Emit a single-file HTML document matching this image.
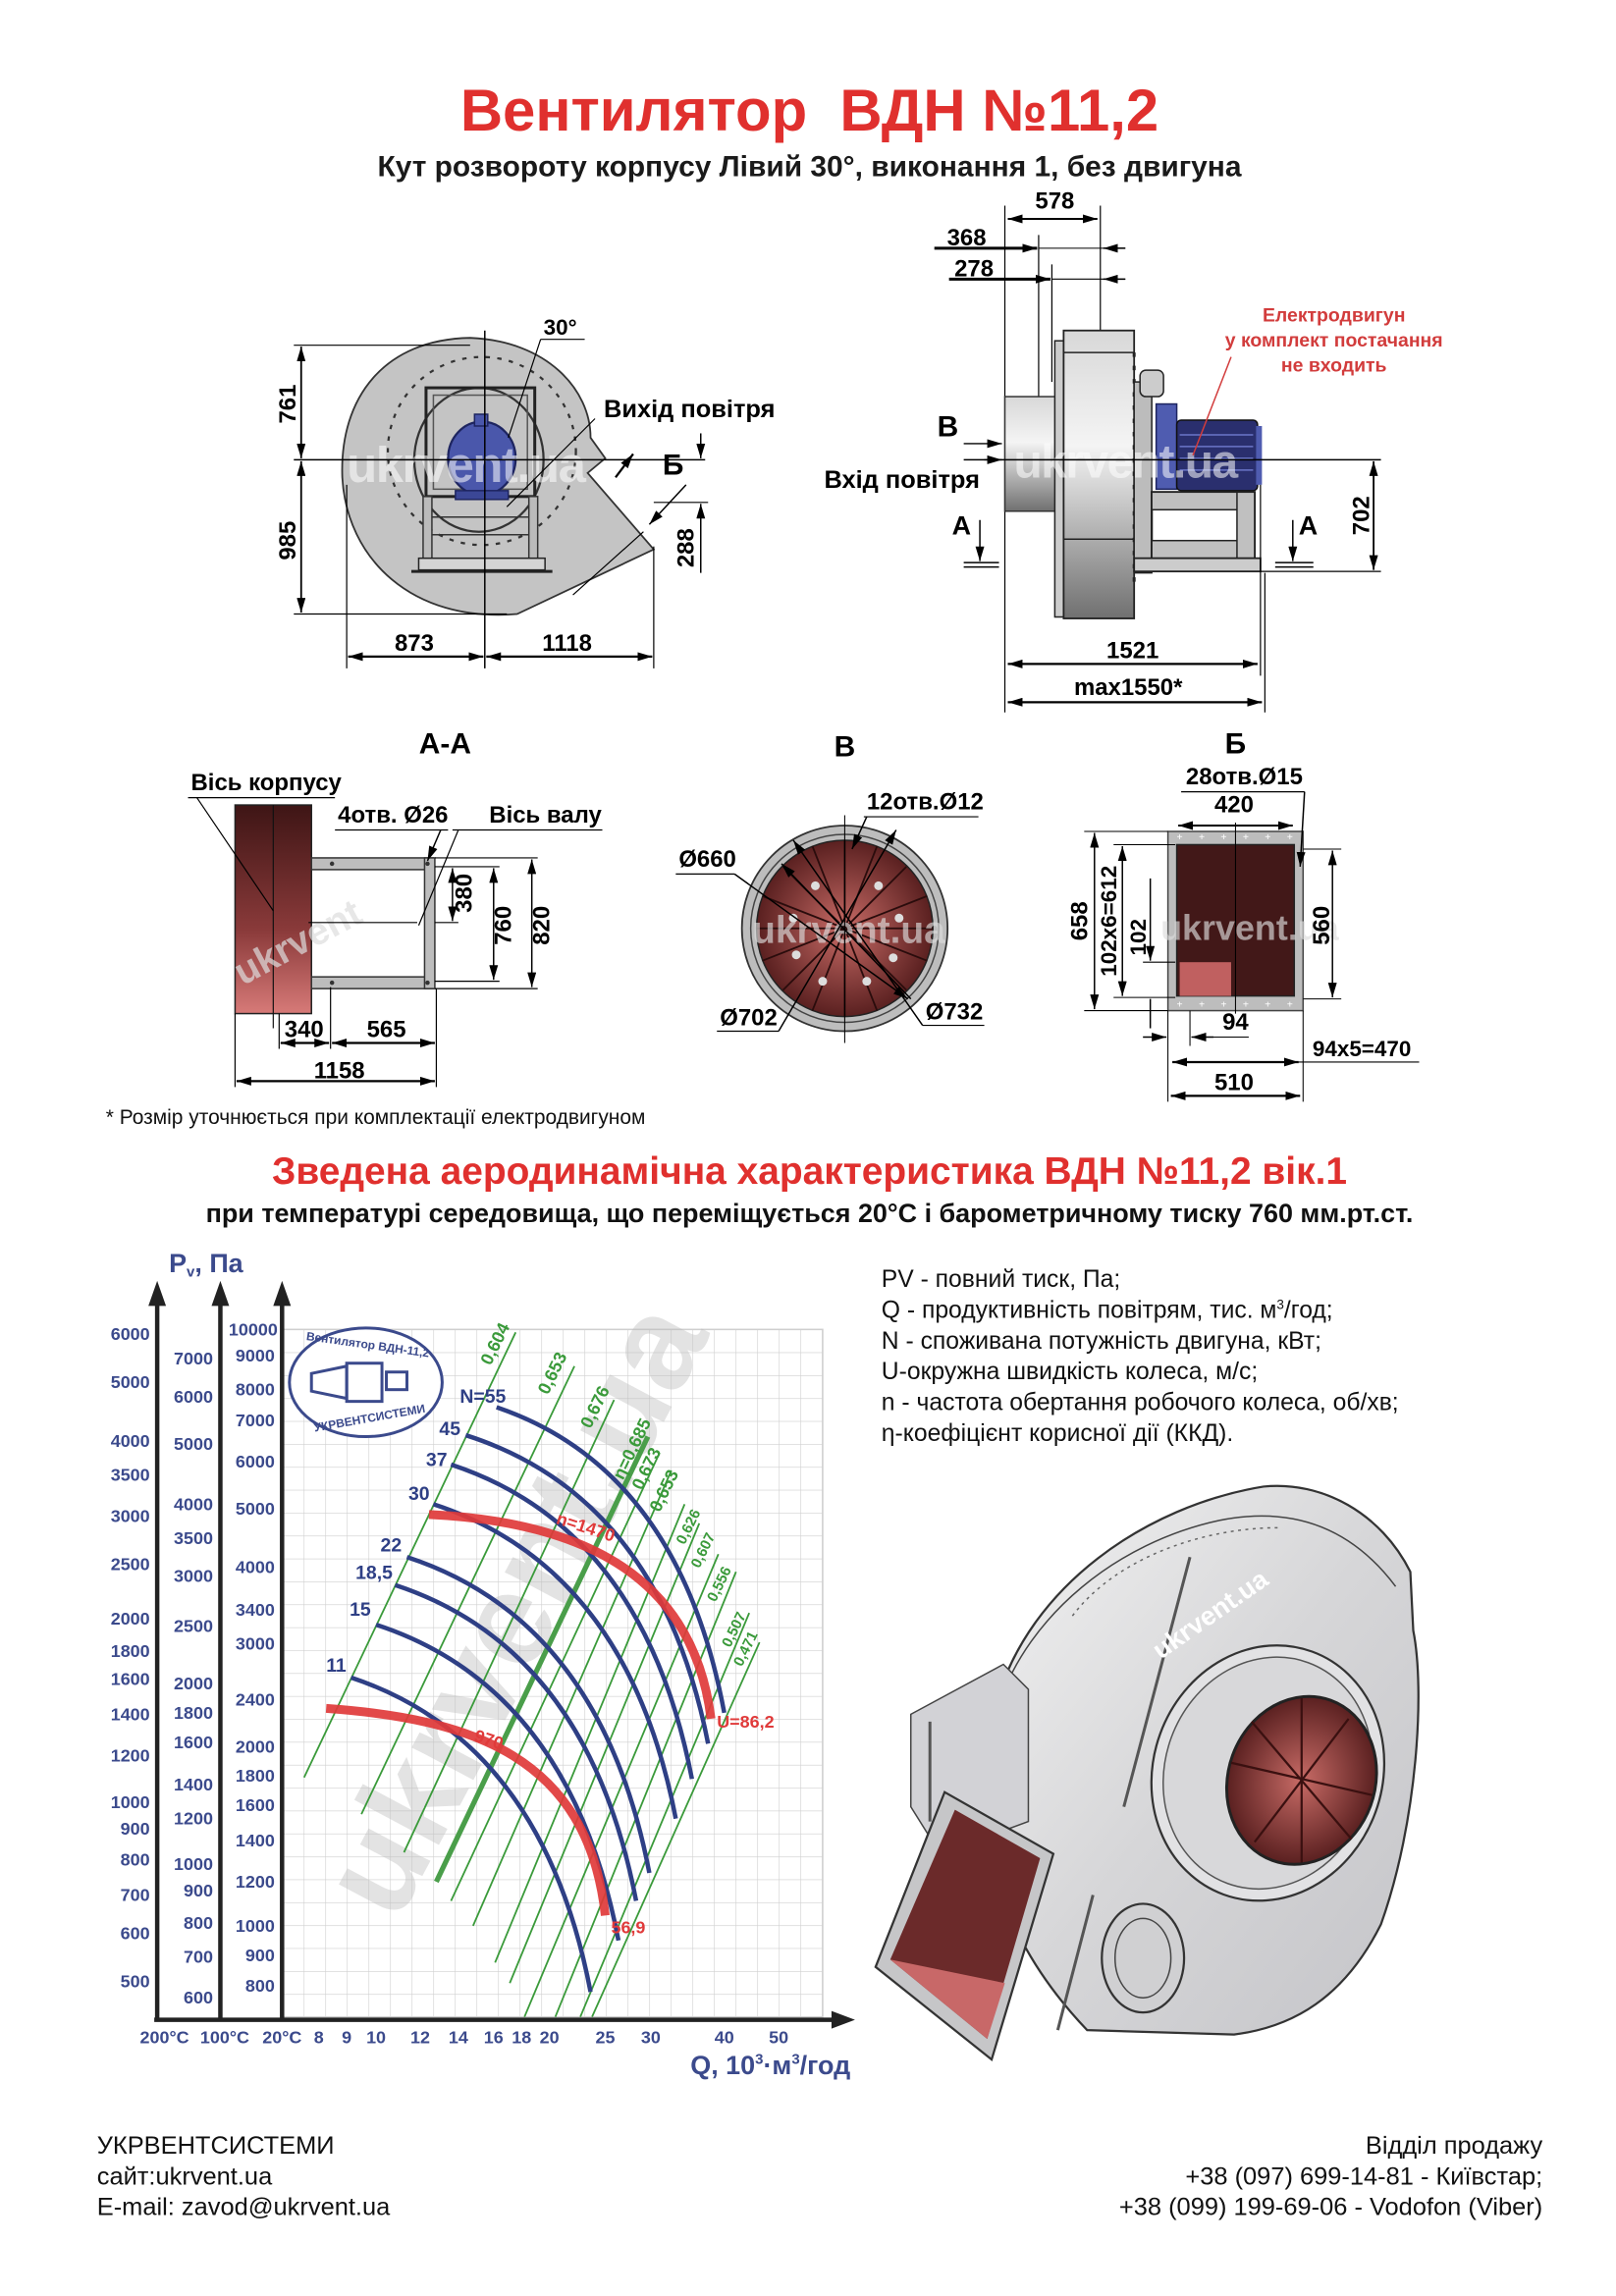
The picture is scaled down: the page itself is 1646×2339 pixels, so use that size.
<!DOCTYPE html>
<html><head><meta charset="utf-8"><style>
html,body{margin:0;padding:0;background:#fff}
svg{display:block}
text{font-family:"Liberation Sans",sans-serif}
</style></head><body>
<svg width="1646" height="2339" viewBox="0 0 1100 1563" preserveAspectRatio="none" xmlns="http://www.w3.org/2000/svg">
<defs>
<marker id="ar" viewBox="0 0 10 6" refX="10" refY="3" markerWidth="10" markerHeight="6" orient="auto-start-reverse" markerUnits="userSpaceOnUse"><path d="M0,0 L10,3 L0,6 z" fill="#000"/></marker>
<linearGradient id="drum" x1="0" y1="0" x2="0" y2="1"><stop offset="0" stop-color="#d8d8d8"/><stop offset="0.4" stop-color="#f4f4f4"/><stop offset="1" stop-color="#707070"/></linearGradient>
<linearGradient id="red" x1="0" y1="0" x2="0" y2="1"><stop offset="0" stop-color="#3e1515"/><stop offset="0.6" stop-color="#8a3a3a"/><stop offset="1" stop-color="#d77a78"/></linearGradient>
<radialGradient id="rr"><stop offset="0" stop-color="#c86b66"/><stop offset="1" stop-color="#5a2020"/></radialGradient>
<linearGradient id="hous" x1="0" y1="0" x2="1" y2="1"><stop offset="0" stop-color="#f2f2f2"/><stop offset="0.5" stop-color="#d6d6d8"/><stop offset="1" stop-color="#c4c4c8"/></linearGradient>
<pattern id="grid" x="192" y="905" width="14.7" height="15.6" patternUnits="userSpaceOnUse"><path d="M0,0 H14.7 M0,0 V15.6" stroke="#cfcfcf" stroke-width="0.8" fill="none"/></pattern>
</defs>

<!-- Header -->
<text x="551" y="89" font-size="40" font-weight="bold" fill="#e0302e" text-anchor="middle">Вентилятор&#160; ВДН №11,2</text>
<text x="551" y="120" font-size="20" font-weight="bold" fill="#1a1a1a" text-anchor="middle">Кут розвороту корпусу Лівий 30°, виконання 1, без двигуна</text>

<!-- FRONT VIEW -->
<path d="M320,230 C372,232 402,265 402,298 L412,312 L400,322 L445,374 L352,418 C280,424 236,380 233,325 C231,270 262,231 320,230 z" fill="#c4c4c4" stroke="#333" stroke-width="1.2"/>
<circle cx="328" cy="307" r="64" fill="none" stroke="#333" stroke-width="1.5" stroke-dasharray="3,5"/>
<ellipse cx="326" cy="313" rx="44" ry="49" fill="none" stroke="#333" stroke-width="1.5"/>
<rect x="290" y="264" width="74" height="74" fill="none" stroke="#222" stroke-width="2"/>
<rect x="295" y="269" width="64" height="64" fill="none" stroke="#555" stroke-width="1"/>
<rect x="288" y="338" width="6" height="44" fill="#bbb" stroke="#333"/>
<rect x="360" y="338" width="6" height="44" fill="#bbb" stroke="#333"/>
<line x1="294" y1="352" x2="360" y2="352" stroke="#333"/>
<line x1="294" y1="364" x2="360" y2="364" stroke="#333"/>
<rect x="285" y="380" width="86" height="8" fill="#d4d4d4" stroke="#222"/>
<line x1="280" y1="389" x2="376" y2="389" stroke="#222" stroke-width="2"/>
<ellipse cx="328" cy="312" rx="23" ry="25" fill="#4a57ab" stroke="#1e2560" stroke-width="1.5"/>
<rect x="323" y="282" width="9" height="8" fill="#4a57ab" stroke="#1e2560"/>
<rect x="310" y="334" width="36" height="6" fill="#3b4796" stroke="#1e2560"/>
<text x="236" y="328" font-size="34" font-weight="bold" fill="#fff" opacity="0.55" letter-spacing="-1">ukrvent.ua</text>
<line x1="200" y1="313" x2="480" y2="313" stroke="#000" stroke-width="1"/>
<line x1="330" y1="225" x2="330" y2="455" stroke="#000" stroke-width="1"/>
<line x1="200" y1="235" x2="320" y2="235" stroke="#000" stroke-width="0.8"/>
<line x1="200" y1="418" x2="345" y2="418" stroke="#000" stroke-width="0.8"/>
<line x1="205" y1="236" x2="205" y2="312" stroke="#000" stroke-width="1.2" marker-start="url(#ar)" marker-end="url(#ar)"/>
<line x1="205" y1="314" x2="205" y2="417" stroke="#000" stroke-width="1.2" marker-start="url(#ar)" marker-end="url(#ar)"/>
<text transform="translate(201,275) rotate(-90)" font-size="16" font-weight="bold" text-anchor="middle">761</text>
<text transform="translate(201,368) rotate(-90)" font-size="16" font-weight="bold" text-anchor="middle">985</text>
<line x1="236" y1="330" x2="236" y2="455" stroke="#000" stroke-width="0.8"/>
<line x1="445" y1="372" x2="445" y2="455" stroke="#000" stroke-width="0.8"/>
<line x1="237" y1="447" x2="329" y2="447" stroke="#000" stroke-width="1.5" marker-start="url(#ar)" marker-end="url(#ar)"/>
<line x1="331" y1="447" x2="444" y2="447" stroke="#000" stroke-width="1.5" marker-start="url(#ar)" marker-end="url(#ar)"/>
<text x="282" y="443" font-size="16" font-weight="bold" text-anchor="middle">873</text>
<text x="386" y="443" font-size="16" font-weight="bold" text-anchor="middle">1118</text>
<line x1="445" y1="342" x2="482" y2="342" stroke="#000" stroke-width="0.8"/>
<line x1="477" y1="295" x2="477" y2="312" stroke="#000" stroke-width="1" marker-end="url(#ar)"/>
<line x1="477" y1="343" x2="477" y2="390" stroke="#000" stroke-width="1" marker-start="url(#ar)"/>
<text transform="translate(472,373) rotate(-90)" font-size="16" font-weight="bold" text-anchor="middle">288</text>
<line x1="346" y1="298" x2="368" y2="231" stroke="#000" stroke-width="0.8"/>
<line x1="368" y1="231" x2="398" y2="231" stroke="#000" stroke-width="0.8"/>
<text x="370" y="228" font-size="15" font-weight="bold">30°</text>
<line x1="345" y1="345" x2="405" y2="285" stroke="#000" stroke-width="0.8"/>
<text x="411" y="284" font-size="17" font-weight="bold">Вихід повітря</text>
<line x1="419" y1="325" x2="431" y2="309" stroke="#000" stroke-width="1.5" marker-end="url(#ar)"/>
<text x="451" y="323" font-size="20" font-weight="bold">Б</text>
<line x1="467" y1="330" x2="442" y2="357" stroke="#000" stroke-width="1" marker-end="url(#ar)"/>
<line x1="438" y1="362" x2="390" y2="405" stroke="#000" stroke-width="0.8"/>

<!-- SIDE VIEW -->
<line x1="684" y1="140" x2="684" y2="485" stroke="#000" stroke-width="0.8"/>
<line x1="749" y1="140" x2="749" y2="420" stroke="#000" stroke-width="0.8"/>
<line x1="707" y1="160" x2="707" y2="300" stroke="#000" stroke-width="0.8"/>
<line x1="716" y1="180" x2="716" y2="260" stroke="#000" stroke-width="0.8"/>
<line x1="686" y1="149" x2="747" y2="149" stroke="#000" stroke-width="1.3" marker-start="url(#ar)" marker-end="url(#ar)"/>
<text x="718" y="142" font-size="16" font-weight="bold" text-anchor="middle">578</text>
<line x1="636" y1="169" x2="706" y2="169" stroke="#000" stroke-width="2" marker-end="url(#ar)"/>
<line x1="707" y1="169" x2="766" y2="169" stroke="#000" stroke-width="0.7"/>
<line x1="766" y1="169" x2="751" y2="169" stroke="#000" stroke-width="1" marker-end="url(#ar)"/>
<text x="658" y="167" font-size="16" font-weight="bold" text-anchor="middle">368</text>
<line x1="646" y1="190" x2="715" y2="190" stroke="#000" stroke-width="2" marker-end="url(#ar)"/>
<line x1="716" y1="190" x2="766" y2="190" stroke="#000" stroke-width="0.7"/>
<line x1="766" y1="190" x2="751" y2="190" stroke="#000" stroke-width="1" marker-end="url(#ar)"/>
<text x="663" y="188" font-size="16" font-weight="bold" text-anchor="middle">278</text>
<rect x="684" y="270" width="37" height="78" fill="url(#drum)" stroke="#333"/>
<rect x="718" y="232" width="6" height="188" fill="#ccc" stroke="#222"/>
<rect x="724" y="225" width="48" height="196" fill="url(#drum)" stroke="#222" stroke-width="1.2"/>
<line x1="724" y1="240" x2="772" y2="240" stroke="#222"/>
<line x1="724" y1="367" x2="772" y2="367" stroke="#222"/>
<line x1="772" y1="240" x2="772" y2="400" stroke="#222" stroke-width="2" stroke-dasharray="3,6"/>
<rect x="772" y="260" width="12" height="130" fill="#bcbcbc" stroke="#222"/>
<rect x="776" y="252" width="16" height="18" rx="4" fill="#ccc" stroke="#222"/>
<rect x="787" y="275" width="14" height="58" fill="#4f5cb0" stroke="#1e2560"/>
<rect x="801" y="286" width="55" height="48" rx="3" fill="#2a2f6e" stroke="#111"/>
<line x1="803" y1="296" x2="853" y2="296" stroke="#6a76c8"/><line x1="803" y1="304" x2="853" y2="304" stroke="#6a76c8"/><line x1="803" y1="312" x2="853" y2="312" stroke="#6a76c8"/><line x1="803" y1="320" x2="853" y2="320" stroke="#6a76c8"/>
<rect x="855" y="290" width="4" height="40" fill="#4f5cb0"/>
<rect x="784" y="335" width="70" height="45" fill="none" stroke="#222" stroke-width="1.5"/>
<rect x="784" y="335" width="70" height="12" fill="#c0c0c0" stroke="#222"/>
<rect x="784" y="368" width="70" height="12" fill="#c0c0c0" stroke="#222"/>
<rect x="842" y="335" width="12" height="45" fill="#c0c0c0" stroke="#222"/>
<rect x="772" y="380" width="86" height="9" fill="#ccc" stroke="#222" stroke-width="1.2"/>
<text x="690" y="325" font-size="32" font-weight="bold" fill="#fff" opacity="0.55" letter-spacing="-1">ukrvent.ua</text>
<line x1="670" y1="313" x2="940" y2="313" stroke="#000" stroke-width="1"/>
<line x1="858" y1="389" x2="940" y2="389" stroke="#000" stroke-width="0.8"/>
<line x1="858" y1="330" x2="858" y2="460" stroke="#000" stroke-width="0.8"/>
<line x1="861" y1="390" x2="861" y2="485" stroke="#000" stroke-width="0.8"/>
<line x1="935" y1="314" x2="935" y2="388" stroke="#000" stroke-width="1.2" marker-start="url(#ar)" marker-end="url(#ar)"/>
<text transform="translate(932,351) rotate(-90)" font-size="16" font-weight="bold" text-anchor="middle">702</text>
<line x1="686" y1="452" x2="856" y2="452" stroke="#000" stroke-width="1.5" marker-start="url(#ar)" marker-end="url(#ar)"/>
<text x="771" y="448" font-size="16" font-weight="bold" text-anchor="middle">1521</text>
<line x1="686" y1="478" x2="859" y2="478" stroke="#000" stroke-width="1.5" marker-start="url(#ar)" marker-end="url(#ar)"/>
<text x="768" y="473" font-size="16" font-weight="bold" text-anchor="middle">max1550*</text>
<text x="638" y="297" font-size="20" font-weight="bold">В</text>
<line x1="656" y1="302" x2="682" y2="302" stroke="#000" stroke-width="1" marker-end="url(#ar)"/>
<line x1="656" y1="313" x2="682" y2="313" stroke="#000" stroke-width="1" marker-end="url(#ar)"/>
<text x="561" y="332" font-size="17" font-weight="bold">Вхід повітря</text>
<text x="648" y="364" font-size="18" font-weight="bold">А</text>
<line x1="667" y1="354" x2="667" y2="382" stroke="#000" stroke-width="1" marker-end="url(#ar)"/>
<line x1="656" y1="383" x2="680" y2="383" stroke="#000"/><line x1="656" y1="386" x2="680" y2="386" stroke="#000"/>
<text x="884" y="364" font-size="18" font-weight="bold">А</text>
<line x1="880" y1="354" x2="880" y2="382" stroke="#000" stroke-width="1" marker-end="url(#ar)"/>
<line x1="868" y1="383" x2="894" y2="383" stroke="#000"/><line x1="868" y1="386" x2="894" y2="386" stroke="#000"/>
<text x="908" y="219" font-size="13" font-weight="bold" fill="#d23c3c" text-anchor="middle">Електродвигун</text>
<text x="908" y="236" font-size="13" font-weight="bold" fill="#d23c3c" text-anchor="middle">у комплект постачання</text>
<text x="908" y="253" font-size="13" font-weight="bold" fill="#d23c3c" text-anchor="middle">не входить</text>
<line x1="838" y1="243" x2="812" y2="310" stroke="#d23c3c" stroke-width="1"/>

<!-- SECTIONS -->
<text x="303" y="513" font-size="20" font-weight="bold" text-anchor="middle">А-А</text>
<text x="575" y="515" font-size="20" font-weight="bold" text-anchor="middle">В</text>
<text x="841" y="513" font-size="20" font-weight="bold" text-anchor="middle">Б</text>
<rect x="160" y="548" width="52" height="142" fill="url(#red)" stroke="#222"/>
<line x1="186" y1="548" x2="186" y2="700" stroke="#111" stroke-width="0.8"/>
<rect x="212" y="584" width="83" height="8" fill="#bdbdbd" stroke="#333"/>
<rect x="212" y="665" width="83" height="8" fill="#bdbdbd" stroke="#333"/>
<rect x="289" y="584" width="7" height="89" fill="#bdbdbd" stroke="#333"/>
<circle cx="226" cy="588" r="1.5" fill="#333"/><circle cx="291" cy="588" r="1.5" fill="#333"/><circle cx="226" cy="669" r="1.5" fill="#333"/><circle cx="291" cy="669" r="1.5" fill="#333"/>
<text x="150" y="650" font-size="26" font-weight="bold" fill="#ddd" opacity="0.7" transform="rotate(-28 200 630)">ukrvent</text>
<line x1="210" y1="628" x2="284" y2="628" stroke="#000" stroke-width="0.8"/>
<line x1="296" y1="584" x2="366" y2="584" stroke="#000" stroke-width="0.8"/>
<line x1="296" y1="673" x2="366" y2="673" stroke="#000" stroke-width="0.8"/>
<line x1="296" y1="590" x2="340" y2="590" stroke="#000" stroke-width="0.8"/>
<line x1="296" y1="668" x2="340" y2="668" stroke="#000" stroke-width="0.8"/>
<line x1="296" y1="628" x2="312" y2="628" stroke="#000" stroke-width="0.8"/>
<line x1="308" y1="591" x2="308" y2="627" stroke="#000" stroke-width="1" marker-start="url(#ar)" marker-end="url(#ar)"/>
<line x1="336" y1="591" x2="336" y2="667" stroke="#000" stroke-width="1" marker-start="url(#ar)" marker-end="url(#ar)"/>
<line x1="362" y1="585" x2="362" y2="672" stroke="#000" stroke-width="1" marker-start="url(#ar)" marker-end="url(#ar)"/>
<text transform="translate(321,608) rotate(-90)" font-size="16" font-weight="bold" text-anchor="middle">380</text>
<text transform="translate(348,630) rotate(-90)" font-size="16" font-weight="bold" text-anchor="middle">760</text>
<text transform="translate(374,630) rotate(-90)" font-size="16" font-weight="bold" text-anchor="middle">820</text>
<line x1="160" y1="690" x2="160" y2="740" stroke="#000" stroke-width="0.8"/>
<line x1="190" y1="690" x2="190" y2="714" stroke="#000" stroke-width="0.8"/>
<line x1="225" y1="672" x2="225" y2="714" stroke="#000" stroke-width="0.8"/>
<line x1="297" y1="673" x2="297" y2="740" stroke="#000" stroke-width="0.8"/>
<line x1="191" y1="710" x2="224" y2="710" stroke="#000" stroke-width="1.5" marker-start="url(#ar)" marker-end="url(#ar)"/>
<line x1="226" y1="710" x2="296" y2="710" stroke="#000" stroke-width="1.5" marker-start="url(#ar)" marker-end="url(#ar)"/>
<line x1="161" y1="736" x2="296" y2="736" stroke="#000" stroke-width="1.5" marker-start="url(#ar)" marker-end="url(#ar)"/>
<text x="207" y="706" font-size="16" font-weight="bold" text-anchor="middle">340</text>
<text x="263" y="706" font-size="16" font-weight="bold" text-anchor="middle">565</text>
<text x="231" y="734" font-size="16" font-weight="bold" text-anchor="middle">1158</text>
<text x="130" y="538" font-size="16" font-weight="bold">Вісь корпусу</text>
<line x1="128" y1="543" x2="228" y2="543" stroke="#000" stroke-width="0.8"/>
<line x1="134" y1="543" x2="186" y2="620" stroke="#000" stroke-width="0.8"/>
<text x="230" y="560" font-size="16" font-weight="bold">4отв. Ø26</text>
<line x1="228" y1="565" x2="305" y2="565" stroke="#000" stroke-width="0.8"/>
<line x1="300" y1="565" x2="291" y2="586" stroke="#000" stroke-width="1" marker-end="url(#ar)"/>
<text x="333" y="560" font-size="16" font-weight="bold">Вісь валу</text>
<line x1="308" y1="565" x2="410" y2="565" stroke="#000" stroke-width="0.8"/>
<line x1="312" y1="565" x2="285" y2="630" stroke="#000" stroke-width="0.8"/>
<circle cx="575" cy="632" r="70" fill="#bdbdbd" stroke="#333" stroke-width="1.2"/>
<circle cx="575" cy="632" r="64" fill="none" stroke="#444"/>
<circle cx="575" cy="632" r="60" fill="url(#rr)" stroke="#222"/>
<g stroke="#2a0c0c" stroke-width="1.2">
<line x1="575" y1="572" x2="575" y2="692"/><line x1="515" y1="632" x2="635" y2="632"/>
<line x1="533" y1="590" x2="617" y2="674"/><line x1="617" y1="590" x2="533" y2="674"/>
<line x1="553" y1="576" x2="597" y2="688"/><line x1="597" y1="576" x2="553" y2="688"/>
<line x1="519" y1="610" x2="631" y2="654"/><line x1="631" y1="610" x2="519" y2="654"/>
</g>
<g fill="#ddd"><circle cx="555" cy="603" r="3"/><circle cx="598" cy="603" r="3"/><circle cx="540" cy="625" r="3"/><circle cx="612" cy="625" r="3"/><circle cx="542" cy="650" r="3"/><circle cx="608" cy="652" r="3"/><circle cx="560" cy="668" r="3"/><circle cx="590" cy="668" r="3"/></g>
<text x="512" y="642" font-size="26" font-weight="bold" fill="#ddd" opacity="0.65">ukrvent.ua</text>
<line x1="575" y1="555" x2="575" y2="710" stroke="#000" stroke-width="0.7"/>
<text x="590" y="551" font-size="16" font-weight="bold">12отв.Ø12</text>
<line x1="588" y1="556" x2="666" y2="556" stroke="#000" stroke-width="0.8"/>
<line x1="590" y1="556" x2="580" y2="578" stroke="#000" stroke-width="1" marker-end="url(#ar)"/>
<text x="462" y="590" font-size="16" font-weight="bold">Ø660</text>
<line x1="460" y1="595" x2="500" y2="595" stroke="#000" stroke-width="0.8"/>
<line x1="500" y1="595" x2="618" y2="680" stroke="#000" stroke-width="1" marker-end="url(#ar)"/>
<line x1="620" y1="680" x2="532" y2="588" stroke="#000" stroke-width="1" marker-end="url(#ar)"/>
<text x="490" y="698" font-size="16" font-weight="bold">Ø702</text>
<line x1="488" y1="702" x2="530" y2="702" stroke="#000" stroke-width="0.8"/>
<line x1="530" y1="702" x2="610" y2="565" stroke="#000" stroke-width="1" marker-end="url(#ar)"/>
<text x="630" y="694" font-size="16" font-weight="bold">Ø732</text>
<line x1="628" y1="698" x2="670" y2="698" stroke="#000" stroke-width="0.8"/>
<line x1="628" y1="698" x2="540" y2="572" stroke="#000" stroke-width="1" marker-end="url(#ar)"/>
<rect x="795" y="566" width="92" height="122" fill="#bdbdbd" stroke="#444"/>
<rect x="801" y="575" width="80" height="103" fill="#421818" stroke="#222"/>
<rect x="803" y="655" width="35" height="23" fill="#c06060"/>
<line x1="841" y1="560" x2="841" y2="690" stroke="#000" stroke-width="0.7"/>
<g fill="#fff" font-size="7" text-anchor="middle"><text x="803" y="572">+</text><text x="818" y="572">+</text><text x="833" y="572">+</text><text x="848" y="572">+</text><text x="863" y="572">+</text><text x="878" y="572">+</text><text x="803" y="686">+</text><text x="818" y="686">+</text><text x="833" y="686">+</text><text x="848" y="686">+</text><text x="863" y="686">+</text><text x="878" y="686">+</text></g>
<text x="790" y="640" font-size="24" font-weight="bold" fill="#ddd" opacity="0.65">ukrvent.ua</text>
<text x="847" y="534" font-size="16" font-weight="bold" text-anchor="middle">28отв.Ø15</text>
<line x1="804" y1="539" x2="888" y2="539" stroke="#000" stroke-width="0.8"/>
<line x1="888" y1="539" x2="885" y2="590" stroke="#000" stroke-width="1" marker-end="url(#ar)"/>
<text x="840" y="553" font-size="16" font-weight="bold" text-anchor="middle">420</text>
<line x1="802" y1="562" x2="880" y2="562" stroke="#000" stroke-width="1.3" marker-start="url(#ar)" marker-end="url(#ar)"/>
<line x1="738" y1="566" x2="795" y2="566" stroke="#000" stroke-width="0.7"/>
<line x1="738" y1="688" x2="795" y2="688" stroke="#000" stroke-width="0.7"/>
<line x1="745" y1="567" x2="745" y2="687" stroke="#000" stroke-width="1" marker-start="url(#ar)" marker-end="url(#ar)"/>
<text transform="translate(740,627) rotate(-90)" font-size="16" font-weight="bold" text-anchor="middle">658</text>
<line x1="758" y1="575" x2="800" y2="575" stroke="#000" stroke-width="0.7"/>
<line x1="758" y1="679" x2="800" y2="679" stroke="#000" stroke-width="0.7"/>
<line x1="764" y1="576" x2="764" y2="678" stroke="#000" stroke-width="1" marker-start="url(#ar)" marker-end="url(#ar)"/>
<text transform="translate(760,627) rotate(-90)" font-size="15" font-weight="bold" text-anchor="middle">102x6=612</text>
<line x1="778" y1="655" x2="800" y2="655" stroke="#000" stroke-width="0.7"/>
<line x1="783" y1="598" x2="783" y2="654" stroke="#000" stroke-width="1" marker-end="url(#ar)"/>
<line x1="783" y1="680" x2="783" y2="700" stroke="#000" stroke-width="1"/>
<text transform="translate(780,638) rotate(-90)" font-size="15" font-weight="bold" text-anchor="middle">102</text>
<line x1="887" y1="578" x2="913" y2="578" stroke="#000" stroke-width="0.7"/>
<line x1="887" y1="680" x2="913" y2="680" stroke="#000" stroke-width="0.7"/>
<line x1="907" y1="579" x2="907" y2="679" stroke="#000" stroke-width="1" marker-start="url(#ar)" marker-end="url(#ar)"/>
<text transform="translate(905,630) rotate(-90)" font-size="16" font-weight="bold" text-anchor="middle">560</text>
<line x1="795" y1="688" x2="795" y2="750" stroke="#000" stroke-width="0.7"/>
<line x1="887" y1="688" x2="887" y2="750" stroke="#000" stroke-width="0.7"/>
<line x1="810" y1="688" x2="810" y2="712" stroke="#000" stroke-width="0.7"/>
<line x1="778" y1="706" x2="794" y2="706" stroke="#000" stroke-width="1" marker-end="url(#ar)"/>
<line x1="826" y1="706" x2="811" y2="706" stroke="#000" stroke-width="1" marker-end="url(#ar)"/>
<line x1="811" y1="706" x2="850" y2="706" stroke="#000" stroke-width="0.7"/>
<text x="841" y="701" font-size="16" font-weight="bold" text-anchor="middle">94</text>
<line x1="798" y1="723" x2="884" y2="723" stroke="#000" stroke-width="1.5" marker-start="url(#ar)" marker-end="url(#ar)"/>
<line x1="884" y1="723" x2="966" y2="723" stroke="#000" stroke-width="0.7"/>
<text x="927" y="719" font-size="15" font-weight="bold" text-anchor="middle">94x5=470</text>
<line x1="797" y1="746" x2="885" y2="746" stroke="#000" stroke-width="1.5" marker-start="url(#ar)" marker-end="url(#ar)"/>
<text x="840" y="742" font-size="16" font-weight="bold" text-anchor="middle">510</text>

<text x="72" y="765" font-size="14" fill="#111">* Розмір уточнюється при комплектації електродвигуном</text>

<text x="551" y="806" font-size="26" font-weight="bold" fill="#e0302e" text-anchor="middle">Зведена аеродинамічна характеристика ВДН №11,2 вік.1</text>
<text x="551" y="832" font-size="18" font-weight="bold" fill="#111" text-anchor="middle">при температурі середовища, що переміщується 20°С і барометричному тиску 760 мм.рт.ст.</text>

<!-- CHART -->
<rect x="192" y="905" width="368" height="468" fill="url(#grid)"/>
<rect x="192" y="905" width="368" height="468" fill="none" stroke="#cfcfcf"/>
<text x="0" y="0" font-size="90" font-weight="bold" fill="#bbb" opacity="0.4" transform="translate(270,1310) rotate(-62)">ukrvent.ua</text>
<g stroke="#222" stroke-width="3" fill="none">
<line x1="107" y1="1375" x2="107" y2="885"/>
<line x1="150" y1="1375" x2="150" y2="885"/>
<line x1="192" y1="1375" x2="192" y2="885"/>
<line x1="105" y1="1375" x2="572" y2="1375"/>
</g>
<g fill="#222">
<path d="M101,889 L107,872 L113,889 z"/>
<path d="M144,889 L150,872 L156,889 z"/>
<path d="M186,889 L192,872 L198,889 z"/>
<path d="M566,1369 L582,1375 L566,1381 z"/>
</g>
<text x="115" y="866" font-size="18" font-weight="bold" fill="#3b4a8c">P<tspan font-size="10" dy="3">v</tspan><tspan dy="-3">, Па</tspan></text>
<g font-size="12" font-weight="bold" fill="#3b4a8c" text-anchor="end">
<text x="102" y="912">6000</text><text x="102" y="945">5000</text><text x="102" y="985">4000</text><text x="102" y="1008">3500</text><text x="102" y="1036">3000</text><text x="102" y="1069">2500</text><text x="102" y="1106">2000</text><text x="102" y="1128">1800</text><text x="102" y="1147">1600</text><text x="102" y="1171">1400</text><text x="102" y="1199">1200</text><text x="102" y="1231">1000</text><text x="102" y="1249">900</text><text x="102" y="1270">800</text><text x="102" y="1294">700</text><text x="102" y="1320">600</text><text x="102" y="1353">500</text>
<text x="145" y="929">7000</text><text x="145" y="955">6000</text><text x="145" y="987">5000</text><text x="145" y="1028">4000</text><text x="145" y="1051">3500</text><text x="145" y="1077">3000</text><text x="145" y="1111">2500</text><text x="145" y="1150">2000</text><text x="145" y="1170">1800</text><text x="145" y="1190">1600</text><text x="145" y="1219">1400</text><text x="145" y="1242">1200</text><text x="145" y="1273">1000</text><text x="145" y="1291">900</text><text x="145" y="1313">800</text><text x="145" y="1336">700</text><text x="145" y="1364">600</text>
<text x="189" y="909">10000</text><text x="187" y="927">9000</text><text x="187" y="950">8000</text><text x="187" y="971">7000</text><text x="187" y="999">6000</text><text x="187" y="1031">5000</text><text x="187" y="1071">4000</text><text x="187" y="1100">3400</text><text x="187" y="1123">3000</text><text x="187" y="1161">2400</text><text x="187" y="1193">2000</text><text x="187" y="1213">1800</text><text x="187" y="1233">1600</text><text x="187" y="1257">1400</text><text x="187" y="1285">1200</text><text x="187" y="1315">1000</text><text x="187" y="1335">900</text><text x="187" y="1356">800</text>
</g>
<g font-size="12" font-weight="bold" fill="#3b4a8c" text-anchor="middle">
<text x="112" y="1391">200°С</text><text x="153" y="1391">100°С</text><text x="192" y="1391">20°С</text><text x="217" y="1391">8</text><text x="236" y="1391">9</text><text x="256" y="1391">10</text><text x="286" y="1391">12</text><text x="312" y="1391">14</text><text x="336" y="1391">16</text><text x="355" y="1391">18</text><text x="374" y="1391">20</text><text x="412" y="1391">25</text><text x="443" y="1391">30</text><text x="493" y="1391">40</text><text x="530" y="1391">50</text>
</g>
<text x="470" y="1412" font-size="18" font-weight="bold" fill="#3b4a8c">Q, 10<tspan font-size="10" dy="-7">3</tspan><tspan dy="7">·м</tspan><tspan font-size="10" dy="-7">3</tspan><tspan dy="7">/год</tspan></text>
<g stroke="#3a9a3a" stroke-width="1.2">
<line x1="207" y1="1210" x2="351" y2="907"/><line x1="246" y1="1235" x2="391" y2="930"/><line x1="275" y1="1261" x2="418" y2="953"/>
<line x1="297" y1="1281" x2="441" y2="978" stroke-width="3.5" stroke="#4a9e4a"/>
<line x1="307" y1="1294" x2="449" y2="989"/><line x1="322" y1="1311" x2="457" y2="1001"/><line x1="337" y1="1336" x2="466" y2="1024"/><line x1="347" y1="1350" x2="476" y2="1037"/><line x1="357" y1="1373" x2="489" y2="1058"/><line x1="378" y1="1373" x2="501" y2="1070"/><line x1="395" y1="1373" x2="510" y2="1098"/><line x1="403" y1="1373" x2="517" y2="1118"/>
</g>
<g font-weight="bold" fill="#3a9a3a" font-size="12">
<text transform="translate(334,930) rotate(-64)">0,604</text><text transform="translate(373,950) rotate(-64)">0,653</text><text transform="translate(402,973) rotate(-64)">0,676</text><text transform="translate(424,1008) rotate(-64)">η=0,685</text><text transform="translate(437,1015) rotate(-64)">0,673</text><text transform="translate(449,1030) rotate(-64)">0,653</text>
<text font-size="10" transform="translate(466,1052) rotate(-64)">0,626</text><text font-size="10" transform="translate(476,1068) rotate(-64)">0,607</text><text font-size="10" transform="translate(487,1091) rotate(-64)">0,556</text><text font-size="10" transform="translate(497,1122) rotate(-64)">0,507</text><text font-size="10" transform="translate(505,1135) rotate(-64)">0,471</text>
</g>
<g stroke="#2e3f85" stroke-width="3" fill="none">
<path d="M338,958 Q462,1000 493,1166"/>
<path d="M317,977 Q449,1019 482,1187"/>
<path d="M307,997 Q438,1040 471,1211"/>
<path d="M295,1024 Q427,1067 460,1238"/>
<path d="M277,1060 Q409,1103 442,1275"/>
<path d="M269,1079 Q400,1122 433,1294"/>
<path d="M256,1106 Q388,1149 421,1321"/>
<path d="M239,1142 Q369,1185 402,1356"/>
</g>
<g font-size="13" font-weight="bold" fill="#2e3f85">
<text x="313" y="955">N=55</text><text x="299" y="977">45</text><text x="290" y="998">37</text><text x="278" y="1021">30</text><text x="259" y="1056">22</text><text x="242" y="1075">18,5</text><text x="238" y="1100">15</text><text x="222" y="1138">11</text>
</g>
<g stroke="#e03a3a" stroke-width="6" fill="none" opacity="0.92">
<path d="M292,1031 C400,1036 472,1075 484,1170"/>
<path d="M222,1163 C320,1170 400,1195 412,1304"/>
</g>
<g font-size="12" font-weight="bold" fill="#e03a3a">
<text transform="translate(378,1037) rotate(18)">n=1470</text>
<text transform="translate(322,1185) rotate(18)">970</text>
<text x="488" y="1176">U=86,2</text>
<text x="416" y="1316">56,9</text>
</g>
<ellipse cx="249" cy="941" rx="52" ry="37" fill="#fff" stroke="#3b4a8c" stroke-width="2"/>
<rect x="236" y="928" width="24" height="26" fill="none" stroke="#3b4a8c" stroke-width="2"/>
<path d="M212,935 L236,930 L236,952 L212,947 z" fill="none" stroke="#3b4a8c" stroke-width="2"/>
<rect x="263" y="934" width="14" height="12" fill="none" stroke="#3b4a8c" stroke-width="2"/>
<text x="250" y="918" font-size="8" font-weight="bold" fill="#3b4a8c" text-anchor="middle" transform="rotate(8 250 918)">Вентилятор ВДН-11,2</text>
<text x="252" y="968" font-size="8" font-weight="bold" fill="#3b4a8c" text-anchor="middle" transform="rotate(-10 252 968)">УКРВЕНТСИСТЕМИ</text>

<g font-size="16.5" fill="#111">
<text x="600" y="876">PV - повний тиск, Па;</text>
<text x="600" y="897">Q - продуктивність повітрям, тис. м<tspan font-size="9" dy="-6">3</tspan><tspan dy="6">/год;</tspan></text>
<text x="600" y="918">N - споживана потужність двигуна, кВт;</text>
<text x="600" y="939">U-окружна швидкість колеса, м/с;</text>
<text x="600" y="960">n - частота обертання робочого колеса, об/хв;</text>
<text x="600" y="981">η-коефіцієнт корисної дії (ККД).</text>
</g>

<!-- 3D fan -->
<path d="M678,1160 C700,1080 780,1025 860,1012 C900,1008 940,1030 960,1070 L962,1110 C970,1150 965,1240 940,1310 C915,1360 880,1380 840,1385 L740,1382 C700,1340 675,1290 675,1250 z" fill="url(#hous)" stroke="#333" stroke-width="1.5"/>
<path d="M680,1160 C700,1100 760,1050 830,1035 C880,1025 920,1040 950,1080" fill="none" stroke="#444" stroke-width="1"/>
<path d="M730,1100 C760,1060 820,1040 870,1040" fill="none" stroke="#666" stroke-width="1" stroke-dasharray="2,3"/>
<path d="M620,1167 L683,1133 L700,1150 L700,1240 L640,1262 L620,1230 z" fill="#d2d2d6" stroke="#444"/>
<line x1="633" y1="1172" x2="633" y2="1240" stroke="#555" stroke-width="2"/>
<ellipse cx="863" cy="1207" rx="78" ry="88" fill="#e2e2e4" stroke="#333" stroke-width="1.5" transform="rotate(20 863 1207)"/>
<ellipse cx="863" cy="1207" rx="70" ry="80" fill="#d8d8da" stroke="#555" transform="rotate(20 863 1207)"/>
<ellipse cx="886" cy="1212" rx="50" ry="58" fill="url(#rr)" stroke="#222" stroke-width="2" transform="rotate(20 886 1212)"/>
<g stroke="#3a1010" stroke-width="1.5"><line x1="886" y1="1156" x2="886" y2="1268"/><line x1="838" y1="1200" x2="934" y2="1222"/><line x1="852" y1="1172" x2="920" y2="1252"/><line x1="918" y1="1170" x2="854" y2="1254"/></g>
<path d="M643,1220 L717,1262 L675,1402 L596,1339 z" fill="#c6c6c8" stroke="#333" stroke-width="1.5"/>
<path d="M650,1232 L708,1265 L672,1388 L606,1334 z" fill="#6b2a2a"/>
<path d="M606,1334 L672,1388 L684,1350 z" fill="#c86868"/>
<ellipse cx="778" cy="1333" rx="28" ry="37" fill="#d0d0d2" stroke="#333" stroke-width="1.5"/>
<ellipse cx="778" cy="1333" rx="19" ry="27" fill="none" stroke="#444"/>
<line x1="744" y1="1290" x2="720" y2="1382" stroke="#555" stroke-width="2"/>
<line x1="810" y1="1060" x2="765" y2="1230" stroke="#555" stroke-width="2"/>
<text x="0" y="0" font-size="18" font-weight="bold" fill="#fff" transform="translate(790,1130) rotate(-35)">ukrvent.ua</text>

<g font-size="17" fill="#111">
<text x="66" y="1466">УКРВЕНТСИСТЕМИ</text>
<text x="66" y="1487">сайт:ukrvent.ua</text>
<text x="66" y="1508">E-mail: zavod@ukrvent.ua</text>
<text x="1050" y="1466" text-anchor="end">Відділ продажу</text>
<text x="1050" y="1487" text-anchor="end">+38 (097) 699-14-81 - Київстар;</text>
<text x="1050" y="1508" text-anchor="end">+38 (099) 199-69-06 - Vodofon (Viber)</text>
</g>
</svg>
</body></html>
